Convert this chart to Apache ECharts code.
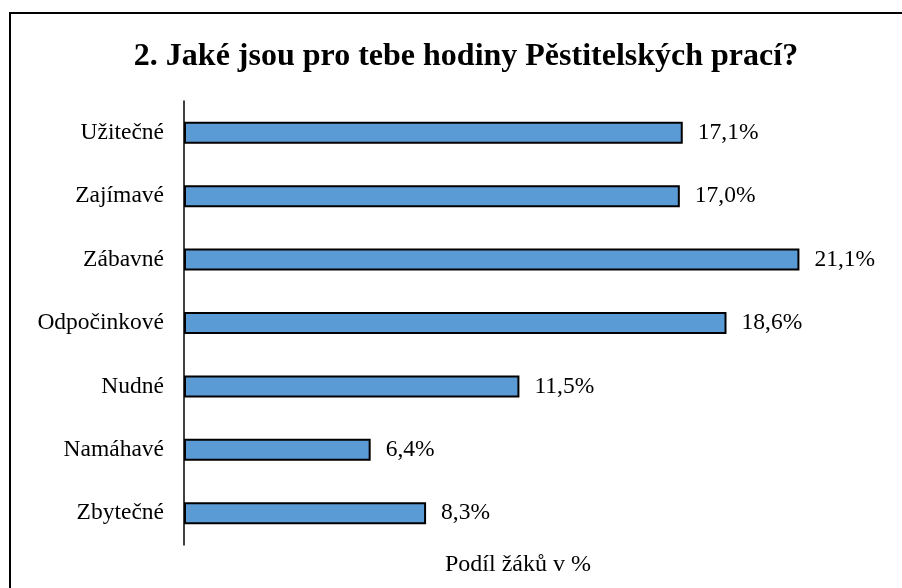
<!DOCTYPE html>
<html>
<head>
<meta charset="utf-8">
<script src="https://cdn.jsdelivr.net/npm/echarts@6/dist/echarts.min.js"></script>
<style>
  html, body { margin: 0; padding: 0; background: #fff; }
  #chart { width: 902px; height: 588px; }
</style>
</head>
<body>
<div id="chart"></div>
<script>
const categories = ['Užitečné', 'Zajímavé', 'Zábavné', 'Odpočinkové', 'Nudné', 'Namáhavé', 'Zbytečné']
const shares = [17.1, 17.0, 21.1, 18.6, 11.5, 6.4, 8.3]

const serif = '"Liberation Serif", "Times New Roman", serif'

const chart = echarts.init(document.getElementById('chart'))

const option = {
  animation: false,
  title: {
    text: '2. Jaké jsou pro tebe hodiny Pěstitelských prací?',
    left: 461,
    top: 36,
    textAlign: 'center',
    textStyle: {
      fontFamily: serif,
      fontSize: 32,
      fontWeight: 'bold',
      color: '#000'
    }
  },
  graphic: [
    {
      type: 'rect',
      shape: { x: 10, y: 13, width: 1000, height: 1000 },
      style: { fill: 'none', stroke: '#000', lineWidth: 2 }
    },
    {
      type: 'text',
      x: 518,
      y: 565,
      style: {
        text: 'Podíl žáků v %',
        align: 'center',
        verticalAlign: 'middle',
        font: '24px ' + serif,
        fill: '#000'
      }
    }
  ],
  grid: {
    left: 184,
    right: 18,
    top: 101,
    bottom: 43
  },
  xAxis: {
    type: 'value',
    min: 0,
    max: 24,
    show: false
  },
  yAxis: {
    type: 'category',
    data: categories,
    inverse: true,
    axisLine: { lineStyle: { color: '#000', width: 1.5 } },
    axisTick: { show: false },
    axisLabel: {
      margin: 20,
      fontFamily: serif,
      fontSize: 23.5,
      color: '#000'
    }
  },
  series: [
    {
      type: 'bar',
      data: shares,
      barWidth: 22,
      itemStyle: {
        color: '#5b9bd5',
        borderColor: '#000',
        borderWidth: 2
      },
      label: {
        show: true,
        position: 'right',
        distance: 15,
        fontFamily: serif,
        fontSize: 23.5,
        color: '#000',
        formatter: p => p.value.toFixed(1).replace('.', ',') + '%'
      }
    }
  ]
}

chart.setOption(option)
</script>
</body>
</html>
